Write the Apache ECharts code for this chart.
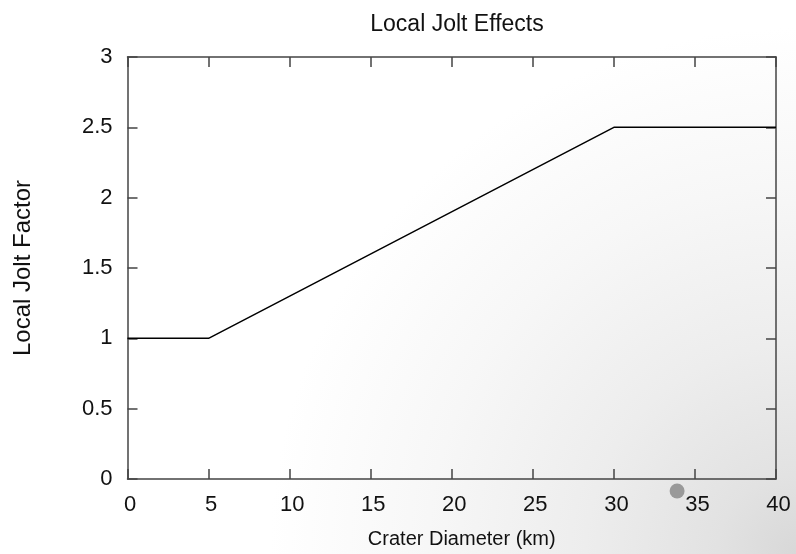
<!DOCTYPE html>
<html>
<head>
<meta charset="utf-8">
<script src="https://cdn.jsdelivr.net/npm/echarts@6/dist/echarts.min.js"></script>
<style>
html,body{margin:0;padding:0;background:#fff;overflow:hidden;}
#chart{width:796px;height:554px;}
</style>
</head>
<body>
<div id="chart"></div>
<script>
// Data
var chartTitle = 'Local Jolt Effects';
var xAxisName = 'Crater Diameter (km)';
var yAxisName = 'Local Jolt Factor';
var craterDiameter = [0, 5, 30, 40];
var joltFactor = [1, 1, 2.5, 2.5];
var markerPoint = [[33.9, -0.085]];

var FONT = "'Liberation Sans', Arial, Helvetica, sans-serif";
var AXIS_COLOR = '#444';

var lineData = craterDiameter.map(function (x, i) { return [x, joltFactor[i]]; });

var chart = echarts.init(document.getElementById('chart'), null, {renderer: 'canvas', width: 796, height: 554});
var H = chart.getHeight();

function baseAxis(extra) {
  var a = {
    type: 'value',
    axisLine: {show: true, onZero: false, lineStyle: {color: AXIS_COLOR, width: 1.5}},
    axisTick: {show: true, inside: true, length: 10, lineStyle: {color: AXIS_COLOR, width: 1.5}},
    splitLine: {show: false},
    axisLabel: {show: false}
  };
  for (var k in extra) a[k] = extra[k];
  return a;
}

var option = {
  animation: false,
  backgroundColor: {
    type: 'radial', x: 1, y: 1, r: 0.95,
    colorStops: [
      {offset: 0, color: '#d8d8d8'},
      {offset: 0.15, color: '#e2e2e2'},
      {offset: 0.4, color: '#ededed'},
      {offset: 0.7, color: '#f7f7f7'},
      {offset: 1, color: '#ffffff'}
    ]
  },
  title: {
    text: chartTitle,
    left: 452, top: 8, textAlign: 'center',
    textStyle: {fontFamily: FONT, fontSize: 23, fontWeight: 'normal', color: '#111'}
  },
  grid: {left: 127.5, right: 20, top: 57, bottom: H - 481, containLabel: false},
  xAxis: [
    baseAxis({
      position: 'bottom', min: 0, max: 40, interval: 5,
      name: xAxisName, nameLocation: 'middle', nameGap: 50,
      nameTextStyle: {fontFamily: FONT, fontSize: 20, color: '#111', padding: [0, 0, 0, 20]},
      axisLabel: {show: true, margin: 15, fontFamily: FONT, fontSize: 22, color: '#111', padding: [0, 0, 0, 5]}
    }),
    baseAxis({position: 'top', min: 0, max: 40, interval: 5})
  ],
  yAxis: [
    baseAxis({
      position: 'left', min: 0, max: 3, interval: 0.5,
      name: yAxisName, nameLocation: 'middle', nameGap: 92,
      nameTextStyle: {fontFamily: FONT, fontSize: 24, color: '#111'},
      axisLabel: {show: true, margin: 15, fontFamily: FONT, fontSize: 22, color: '#111'}
    }),
    baseAxis({position: 'right', min: 0, max: 3, interval: 0.5})
  ],
  series: [
    {
      type: 'line', xAxisIndex: 0, yAxisIndex: 0,
      data: lineData, showSymbol: false, symbol: 'none',
      lineStyle: {color: '#000', width: 1.5}
    },
    {
      type: 'scatter', xAxisIndex: 0, yAxisIndex: 0,
      data: markerPoint, symbolSize: 15, clip: false,
      itemStyle: {color: '#999', opacity: 1}
    }
  ]
};
chart.setOption(option);
</script>
</body>
</html>
